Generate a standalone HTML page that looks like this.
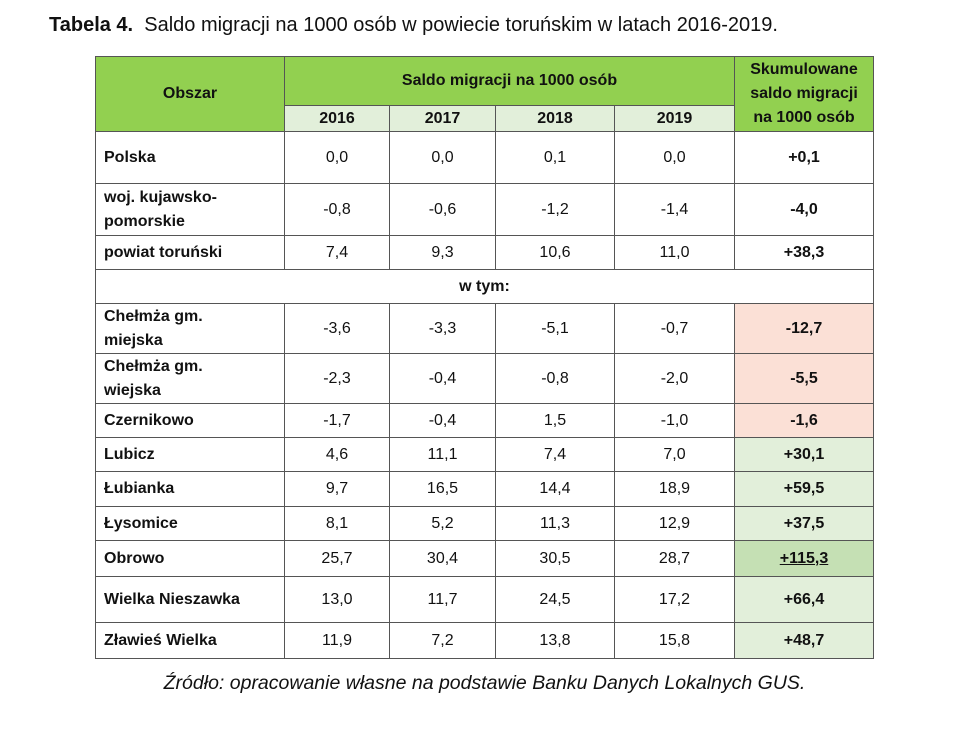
<!DOCTYPE html>
<html><head><meta charset="utf-8"><style>
body{margin:0;width:957px;height:730px;background:#fff;font-family:"Liberation Sans",Arial,sans-serif;position:relative;overflow:hidden;color:#111}
.c{position:absolute;box-sizing:border-box;border:1px solid #555;display:flex;align-items:center;justify-content:center;text-align:center;font-size:16px;line-height:24px}
.l{justify-content:flex-start;text-align:left;padding-left:8px;font-weight:bold}
.b{font-weight:bold}
.g{background:#92d050}
.lg{background:#e2efda}
.r{background:#fbe0d6}
.dg{background:#c5e0b4}
</style></head><body>
<div style="position:absolute;left:49px;top:14px;font-size:20px;white-space:nowrap"><b>Tabela 4.</b>&nbsp; Saldo migracji na 1000 osób w powiecie toruńskim w latach 2016-2019.</div>
<div id="t"></div>
<div style="position:absolute;left:0;width:969px;top:672px;text-align:center;font-size:19.5px;font-style:italic">Źródło: opracowanie własne na podstawie Banku Danych Lokalnych GUS.</div>
<script>
const X=[95,284,389,495,614,734,873];
const t=document.getElementById('t');
function cell(x1,x2,y1,y2,txt,cls){const d=document.createElement('div');d.className='c '+(cls||'');d.style.left=x1+'px';d.style.top=y1+'px';d.style.width=(x2-x1+1)+'px';d.style.height=(y2-y1+1)+'px';d.innerHTML=txt;t.appendChild(d);}
cell(X[0],X[1],56,131,'Obszar','g b');
cell(X[1],X[5],56,105,'Saldo migracji na 1000 osób','g b');
['2016','2017','2018','2019'].forEach((y,i)=>cell(X[i+1],X[i+2],105,131,y,'lg b'));
cell(X[5],X[6],56,131,'Skumulowane<br>saldo migracji<br>na 1000 osób','g b');
const rows=[
[131,183,'Polska',['0,0','0,0','0,1','0,0'],'+0,1',''],
[183,235,'woj. kujawsko-<br>pomorskie',['-0,8','-0,6','-1,2','-1,4'],'-4,0',''],
[235,269,'powiat toruński',['7,4','9,3','10,6','11,0'],'+38,3',''],
null,
[303,353,'Chełmża gm.<br>miejska',['-3,6','-3,3','-5,1','-0,7'],'-12,7','r'],
[353,403,'Chełmża gm.<br>wiejska',['-2,3','-0,4','-0,8','-2,0'],'-5,5','r'],
[403,437,'Czernikowo',['-1,7','-0,4','1,5','-1,0'],'-1,6','r'],
[437,471,'Lubicz',['4,6','11,1','7,4','7,0'],'+30,1','lg'],
[471,506,'Łubianka',['9,7','16,5','14,4','18,9'],'+59,5','lg'],
[506,540,'Łysomice',['8,1','5,2','11,3','12,9'],'+37,5','lg'],
[540,576,'Obrowo',['25,7','30,4','30,5','28,7'],'<u>+115,3</u>','dg'],
[576,622,'Wielka Nieszawka',['13,0','11,7','24,5','17,2'],'+66,4','lg'],
[622,658,'Zławieś Wielka',['11,9','7,2','13,8','15,8'],'+48,7','lg']];
rows.forEach(r=>{if(!r){cell(X[0],X[6],269,303,'w tym:','b');return;}
cell(X[0],X[1],r[0],r[1],r[2],'l');
r[3].forEach((v,i)=>cell(X[i+1],X[i+2],r[0],r[1],v,''));
cell(X[5],X[6],r[0],r[1],r[4],'b '+r[5]);});
</script>
</body></html>
